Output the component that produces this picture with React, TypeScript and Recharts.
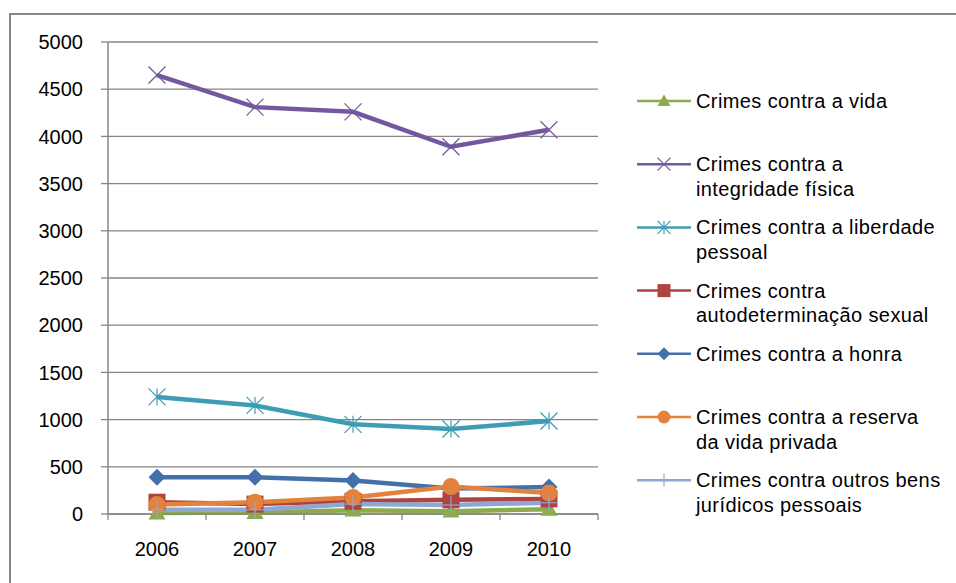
import React from "react";
import { LineChart, Line, XAxis, YAxis, CartesianGrid } from "recharts";

const YEARS = ["2006", "2007", "2008", "2009", "2010"];
const VIDA = [10, 15, 40, 30, 50];
const INTEGRIDADE = [4650, 4310, 4260, 3890, 4070];
const LIBERDADE = [1240, 1150, 950, 900, 985];
const SEXUAL = [125, 105, 135, 150, 160];
const HONRA = [390, 390, 355, 270, 285];
const RESERVA = [100, 125, 175, 290, 222];
const OUTROS = [45, 45, 105, 95, 120];
const Y_TICKS = [0, 500, 1000, 1500, 2000, 2500, 3000, 3500, 4000, 4500, 5000];

type MarkerKind = "triangle" | "x" | "star" | "square" | "diamond" | "circle" | "plus";

type Serie = {
  key: string;
  lines: string[];
  values: number[];
  color: string;
  marker: MarkerKind;
};

const SERIES: Serie[] = [
  { key: "vida", lines: ["Crimes contra a vida"], values: VIDA, color: "#8DAA4C", marker: "triangle" },
  { key: "integridade", lines: ["Crimes contra a", "integridade física"], values: INTEGRIDADE, color: "#7358A0", marker: "x" },
  { key: "liberdade", lines: ["Crimes contra a liberdade", "pessoal"], values: LIBERDADE, color: "#3F9CB5", marker: "star" },
  { key: "sexual", lines: ["Crimes contra", "autodeterminação sexual"], values: SEXUAL, color: "#AE4340", marker: "square" },
  { key: "honra", lines: ["Crimes contra a honra"], values: HONRA, color: "#4470AA", marker: "diamond" },
  { key: "reserva", lines: ["Crimes contra a reserva", "da vida privada"], values: RESERVA, color: "#E3823C", marker: "circle" },
  { key: "outros", lines: ["Crimes contra outros bens", "jurídicos pessoais"], values: OUTROS, color: "#8FA8D2", marker: "plus" },
];

const data = YEARS.map((year, i) => {
  const row: Record<string, string | number> = { year };
  SERIES.forEach((s) => {
    row[s.key] = s.values[i];
  });
  return row;
});

const FONT = "'Liberation Sans', Arial, sans-serif";
const GRAY = "#868686";
const HALF_BAND = 49;
const X_GAP = 28;

function Marker({ kind, cx, cy, color, size }: { kind: MarkerKind; cx: number; cy: number; color: string; size: number }) {
  const h = size / 2;
  switch (kind) {
    case "triangle":
      return <polygon points={`${cx},${cy - h} ${cx + h},${cy + h * 0.75} ${cx - h},${cy + h * 0.75}`} fill={color} />;
    case "square":
      return <rect x={cx - h} y={cy - h} width={size} height={size} fill={color} />;
    case "diamond":
      return <polygon points={`${cx},${cy - h} ${cx + h},${cy} ${cx},${cy + h} ${cx - h},${cy}`} fill={color} />;
    case "circle":
      return <circle cx={cx} cy={cy} r={h} fill={color} />;
    case "x":
      return (
        <g stroke={color} strokeWidth={1.2}>
          <line x1={cx - h} y1={cy - h} x2={cx + h} y2={cy + h} />
          <line x1={cx - h} y1={cy + h} x2={cx + h} y2={cy - h} />
        </g>
      );
    case "star":
      return (
        <g stroke={color} strokeWidth={1.2}>
          <line x1={cx - h} y1={cy - h} x2={cx + h} y2={cy + h} />
          <line x1={cx - h} y1={cy + h} x2={cx + h} y2={cy - h} />
          <line x1={cx} y1={cy - h} x2={cx} y2={cy + h} />
        </g>
      );
    case "plus":
      return (
        <g stroke={color} strokeWidth={1.2}>
          <line x1={cx} y1={cy - h} x2={cx} y2={cy + h} />
          <line x1={cx - h} y1={cy} x2={cx + h} y2={cy} />
        </g>
      );
  }
  return null;
}

const XTick = (props: any) => {
  const { x, y, payload, index } = props;
  const axisY = y - X_GAP;
  return (
    <g>
      <line x1={x - HALF_BAND} y1={axisY} x2={x - HALF_BAND} y2={axisY + 6} stroke={GRAY} strokeWidth={1.3} />
      {index === YEARS.length - 1 && (
        <line x1={x + HALF_BAND} y1={axisY} x2={x + HALF_BAND} y2={axisY + 6} stroke={GRAY} strokeWidth={1.3} />
      )}
      <text x={x} y={y} dy="0.71em" textAnchor="middle" fill="#000" fontSize={20} fontFamily={FONT}>
        {payload.value}
      </text>
    </g>
  );
};

function ChartLegend() {
  return (
    <svg width={956} height={583} style={{ position: "absolute", left: 0, top: 0, pointerEvents: "none" }}>
      {SERIES.map((s, i) => {
        const y = 101 + i * 63.2;
        return (
          <g key={s.key}>
            <line x1={637} y1={y} x2={691} y2={y} stroke={s.color} strokeWidth={2.5} />
            <Marker kind={s.marker} cx={664} cy={y} color={s.color} size={13} />
            {s.lines.map((t, j) => (
              <text
                key={j}
                x={696}
                y={y + j * 24.5}
                dy="0.35em"
                fontSize={20}
                letterSpacing={0.4}
                fontFamily={FONT}
                fill="#000"
              >
                {t}
              </text>
            ))}
          </g>
        );
      })}
    </svg>
  );
}

export default function App() {
  return (
    <div style={{ position: "absolute", left: 0, top: 0, width: 956, height: 583, overflow: "hidden", background: "#fff" }}>
      <div
        style={{
          position: "absolute",
          left: 9,
          top: 13,
          width: 980,
          height: 600,
          borderTop: `2px solid ${GRAY}`,
          borderLeft: `2.5px solid ${GRAY}`,
        }}
      />
      <LineChart
        width={956}
        height={583}
        data={data}
        margin={{ top: 42, right: 358, bottom: 0, left: 0 }}
        style={{ position: "absolute", left: 0, top: 0 }}
      >
        <CartesianGrid horizontal vertical={false} stroke={GRAY} strokeWidth={1.3} />
        <XAxis
          dataKey="year"
          height={69}
          padding={{ left: HALF_BAND, right: HALF_BAND }}
          axisLine={{ stroke: GRAY, strokeWidth: 1.5 }}
          tickLine={false}
          tickSize={0}
          tickMargin={X_GAP}
          tick={<XTick />}
          interval={0}
        />
        <YAxis
          width={108}
          domain={[0, 5000]}
          ticks={Y_TICKS}
          interval={0}
          axisLine={{ stroke: GRAY, strokeWidth: 1.5 }}
          tickLine={{ stroke: GRAY, strokeWidth: 1.3 }}
          tickSize={7}
          tickMargin={18}
          tick={{ fill: "#000", fontSize: 20, fontFamily: FONT }}
        />
        {SERIES.map((s) => (
          <Line
            key={s.key}
            dataKey={s.key}
            name={s.lines.join(" ")}
            type="linear"
            stroke={s.color}
            strokeWidth={4.5}
            isAnimationActive={false}
            dot={(p: any) => (
              <Marker key={`${s.key}-${p.index}`} kind={s.marker} cx={p.cx} cy={p.cy} color={s.color} size={17} />
            )}
            activeDot={false}
          />
        ))}
      </LineChart>
      <ChartLegend />
    </div>
  );
}
